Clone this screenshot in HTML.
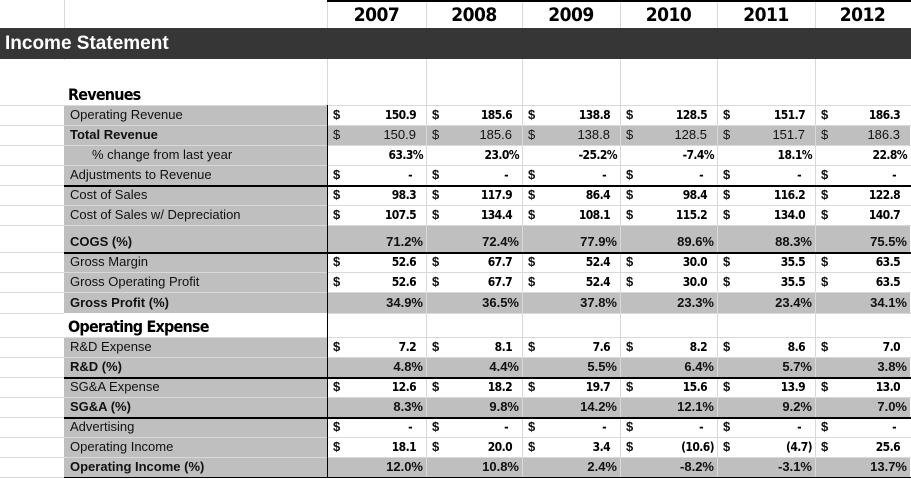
<!DOCTYPE html>
<html><head><meta charset="utf-8">
<style>
html,body{margin:0;padding:0;background:#fff;}
#sheet{position:relative;width:911px;height:479px;overflow:hidden;font-family:"Liberation Sans",Arial,sans-serif;}
.c{position:absolute;box-sizing:border-box;}
.t{position:absolute;white-space:nowrap;font-size:13px;line-height:14px;color:#111;}
.b{font-weight:bold;}
.nb{font-family:"DejaVu Sans Condensed","DejaVu Sans","Liberation Sans",sans-serif;font-weight:bold;font-size:12px;letter-spacing:-0.6px;color:#000;}
</style></head>
<body>
<div id="sheet"></div>
<script>
const years = ["2007","2008","2009","2010","2011","2012"];
const rowLabels = ["Operating Revenue","Total Revenue","% change from last year","Adjustments to Revenue","Cost of Sales","Cost of Sales w/ Depreciation","COGS (%)","Gross Margin","Gross Operating Profit","Gross Profit (%)","R&D Expense","R&D (%)","SG&A Expense","SG&A (%)","Advertising","Operating Income","Operating Income (%)"];
const operatingRevenue = [150.9,185.6,138.8,128.5,151.7,186.3];
const totalRevenue = [150.9,185.6,138.8,128.5,151.7,186.3];
const pctChange = [63.3,23.0,-25.2,-7.4,18.1,22.8];
const adjustments = [0,0,0,0,0,0];
const costOfSales = [98.3,117.9,86.4,98.4,116.2,122.8];
const costOfSalesDep = [107.5,134.4,108.1,115.2,134.0,140.7];
const cogsPct = [71.2,72.4,77.9,89.6,88.3,75.5];
const grossMargin = [52.6,67.7,52.4,30.0,35.5,63.5];
const grossOpProfit = [52.6,67.7,52.4,30.0,35.5,63.5];
const grossProfitPct = [34.9,36.5,37.8,23.3,23.4,34.1];
const rdExpense = [7.2,8.1,7.6,8.2,8.6,7.0];
const rdPct = [4.8,4.4,5.5,6.4,5.7,3.8];
const sgaExpense = [12.6,18.2,19.7,15.6,13.9,13.0];
const sgaPct = [8.3,9.8,14.2,12.1,9.2,7.0];
const advertising = [0,0,0,0,0,0];
const operatingIncome = [18.1,20.0,3.4,-10.6,-4.7,25.6];
const operatingIncomePct = [12.0,10.8,2.4,-8.2,-3.1,13.7];

const sheet = document.getElementById('sheet');
const colX = [327,426,522,620,717,815,910];
const gray = '#bfbfbf', grid = '#d9d9d9';

function box(x,y,w,h,style,name){
  const d=document.createElement('div');d.className='c';
  d.style.left=x+'px';d.style.top=y+'px';d.style.width=w+'px';d.style.height=h+'px';
  Object.assign(d.style,style||{});
  
  
  sheet.appendChild(d);return d;
}
function text(x,y,str,cls,name,right){
  const s=document.createElement('div');s.className='t '+(cls||'');
  if(right){s.style.right=(911-x)+'px';}else{s.style.left=x+'px';}
  s.style.top=y+'px';s.textContent=str;
  
  
  sheet.appendChild(s);return s;
}
// grid lines column A / general
const hLines=[28,105,125,145,165,185,205,225,252,272,292,313,337,357,377,397,417,437,457,477];
hLines.forEach(y=>box(0,y,911,1,{background:grid},'gridline'));
[64,327,426,522,620,717,815].forEach(x=>box(x,0,1,479,{background:grid},'gridline-v'));

// header top border
box(327,0,584,2,{background:'#000'},'header-border');
years.forEach((yr,i)=>{
  const w=colX[i+1]-colX[i];
  const d=box(colX[i],2,w,26,{textAlign:'center',font:'bold 19px "DejaVu Sans Condensed","Liberation Sans",sans-serif',letterSpacing:'-0.5px',lineHeight:'26px',color:'#000'},'year-header-'+yr);
  d.textContent=yr;
});
// title bar
const tb=box(0,28,911,31,{background:'#363636',color:'#fff',font:'bold 19px "Liberation Sans",sans-serif',lineHeight:'31px',paddingLeft:'5px'},'income-statement-title');
tb.textContent='Income Statement';
// Revenues heading
box(64,60,263,45,{background:'#fff'},'revenues-bg');
text(68,85,'Revenues','b','revenues-heading').style.cssText+='font:bold 16px "DejaVu Sans Condensed","Liberation Sans",sans-serif;letter-spacing:-0.8px;color:#000;';

const data=[operatingRevenue,totalRevenue,pctChange,adjustments,costOfSales,costOfSalesDep,cogsPct,grossMargin,grossOpProfit,grossProfitPct,rdExpense,rdPct,sgaExpense,sgaPct,advertising,operatingIncome,operatingIncomePct];
// kinds: d=dollar bold, dp=dollar plain gray, p=pct bold narrow white, pg=pct gray
const kinds=['d','dp','p','d','d','d','pg','d','d','pg','d','pg','d','pg','d','d','pg'];
const tops=[105,125,145,165,185,205,225,252,272,292,337,357,377,397,417,437,457];
const hts=[20,20,20,20,20,20,27,20,20,21,20,20,20,20,20,20,20];
const boldLabel=[false,true,false,false,false,false,true,false,false,true,false,true,false,true,false,false,true];

// Operating Expense heading row
box(64,313,263,24,{background:'#fff'},'opex-bg');
text(68,317,'Operating Expense','b','operating-expense-heading').style.cssText+='font:bold 16px "DejaVu Sans Condensed","Liberation Sans",sans-serif;letter-spacing:-0.8px;color:#000;';

function fmt(v){ if(v===0) return '-'; const s=Math.abs(v).toFixed(1); return v<0?'('+s+')':s; }

rowLabels.forEach((lab,r)=>{
  const y=tops[r],h=hts[r],k=kinds[r];
  box(64,y,263,h,{background:gray,borderTop:'1px solid '+grid},'label-cell');
  const ty=y+h-17;
  const lx = r===2?92:70;
  text(lx,ty,lab,boldLabel[r]?'b':'', 'row-label-'+lab.toLowerCase().replace(/[^a-z0-9]+/g,'-'));
  years.forEach((yr,i)=>{
    const x=colX[i],w=colX[i+1]-colX[i];
    const bg=(k==='dp'||k==='pg')?gray:'#fff';
    box(x+1,y+1,w-1,h-1,{background:bg},'value-cell');
    const v=data[r][i];
    if(k==='d'||k==='dp'){
      const cls=k==='d'?'nb':'';
      text(x+6,ty,'$',k==='d'?'b':'','dollar-sign');
      const str=fmt(v);
      const pad=(v<0)?3:(str==='-'?14:10);
      text(colX[i+1]-pad,ty,str,cls,'value-'+yr,true);
    } else {
      const cls=k==='p'?'nb':'b';
      text(colX[i+1]-3,ty,v.toFixed(1)+'%',cls,'pct-'+yr,true);
    }
  });
});
// black borders
box(327,105,1,373,{background:'#000'},'value-left-border');
[185,252,377,417,477].forEach(y=>box(64,y,847,1.5,{background:'#000'},'section-border'));
box(0,478,911,1,{background:'#fff'},'bottom');
</script>
</body></html>
